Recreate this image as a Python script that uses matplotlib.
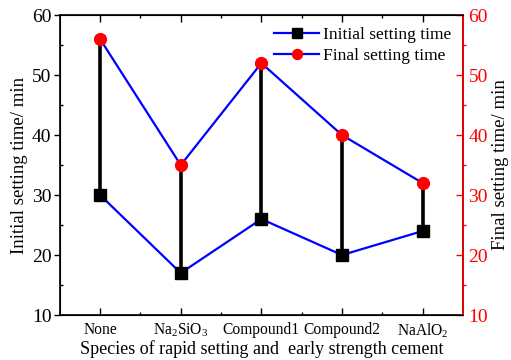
import matplotlib
matplotlib.use("Agg")
import matplotlib.pyplot as plt
import numpy as np

categories = ["None", "Na$_2$SiO$_3$", "Compound1", "Compound2", "NaAlO$_2$"]
initial = [30, 17, 26, 20, 24]
final = [56, 35, 52, 40, 32]

plt.rcParams['font.family'] = ['Liberation Serif', 'DejaVu Serif']
plt.rcParams['mathtext.fontset'] = 'custom'
plt.rcParams['mathtext.rm'] = 'Liberation Serif'
plt.rcParams['mathtext.it'] = 'Liberation Serif:italic'

fig = plt.figure(figsize=(5.11, 3.6), dpi=100)
ax = fig.add_axes([0.117, 0.125, 0.789, 0.833])
x = np.arange(len(categories))

ax.vlines(x, initial, final, colors='black', linewidth=2.6, zorder=2)
l1, = ax.plot(x, initial, color='#0000FF', linewidth=1.6, marker='s', markersize=8,
              markerfacecolor='black', markeredgecolor='black', zorder=3,
              label='Initial setting time')
l2, = ax.plot(x, final, color='#0000FF', linewidth=1.6, marker='o', markersize=8.5,
              markerfacecolor='#FF0000', markeredgecolor='#FF0000', zorder=3,
              label='Final setting time')

ax.set_xlim(-0.5, 4.5)
ax.set_ylim(10, 60)
ax.set_xticks(x)
ax.set_xticklabels(categories, fontsize=11.2)
ax.set_xticks(np.arange(0.5, 4.5, 1.0), minor=True)
ax.set_yticks([10, 20, 30, 40, 50, 60])
ax.set_yticks([15, 25, 35, 45, 55], minor=True)
ax.tick_params(axis='y', which='major', direction='out', length=4, width=1, labelsize=14, pad=2)
ax.tick_params(axis='y', which='minor', direction='in', length=2, width=1)
ax.tick_params(axis='x', which='major', direction='in', length=5, width=1, top=True, pad=5)
ax.tick_params(axis='x', which='minor', direction='in', length=2.5, width=1, top=True)
ax.set_xlabel("Species of rapid setting and  early strength cement", fontsize=13, labelpad=0)
ax.set_ylabel("Initial setting time/ min", fontsize=13.5, labelpad=3)
for s in ax.spines.values():
    s.set_linewidth(1.2)

ax2 = ax.twinx()
ax2.set_ylim(10, 60)
ax2.set_yticks([10, 20, 30, 40, 50, 60])
ax2.set_yticks([15, 25, 35, 45, 55], minor=True)
ax2.tick_params(axis='y', which='major', direction='in', length=5, width=1,
                colors='#FF0000', labelsize=14, pad=4)
ax2.tick_params(axis='y', which='minor', direction='out', length=2, width=1, colors='#FF0000')
ax2.spines['right'].set_color('#FF0000')
ax2.spines['right'].set_linewidth(1.2)
ax2.set_ylabel("Final setting time/ min", fontsize=13.5, color='black', labelpad=3)

ax.legend(handles=[l1, l2], loc='upper right', frameon=False, fontsize=12.5,
          handlelength=2.6, handletextpad=0.2, borderaxespad=0.3, labelspacing=0.25,
          markerscale=0.85)

fig.savefig("out.png", dpi=100)
